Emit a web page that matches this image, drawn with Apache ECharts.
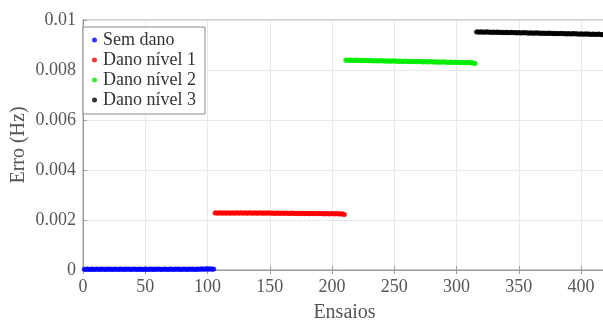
<!DOCTYPE html>
<html><head><meta charset="utf-8">
<script src="https://cdn.jsdelivr.net/npm/echarts@6/dist/echarts.min.js"></script>
<style>html,body{margin:0;padding:0;background:#fff}#c{width:603px;height:323px}</style>
</head><body><div id="c"></div>
<script>
const seriesNames = ["Sem dano", "Dano nível 1", "Dano nível 2", "Dano nível 3"];
const seriesStart = [1, 106, 211, 316];
const xTickLabels = ["0","50","100","150","200","250","300","350","400"];
const yTickLabels = ["0","0.002","0.004","0.006","0.008","0.01"];

const semDano = [0.00003,0.00002,0.00004,0.00003,0.00003,0.00002,0.00004,0.00003,0.00002,0.00003,
0.00004,0.00003,0.00002,0.00003,0.00004,0.00003,0.00003,0.00002,0.00004,0.00003,
0.00003,0.00004,0.00002,0.00003,0.00003,0.00004,0.00003,0.00002,0.00003,0.00004,
0.00003,0.00003,0.00002,0.00004,0.00003,0.00003,0.00004,0.00002,0.00003,0.00003,
0.00004,0.00003,0.00003,0.00002,0.00004,0.00003,0.00003,0.00002,0.00003,0.00004,
0.00003,0.00002,0.00003,0.00004,0.00003,0.00003,0.00002,0.00004,0.00003,0.00003,
0.00004,0.00003,0.00002,0.00003,0.00003,0.00004,0.00003,0.00002,0.00003,0.00004,
0.00003,0.00003,0.00002,0.00004,0.00003,0.00003,0.00004,0.00003,0.00002,0.00003,
0.00004,0.00003,0.00003,0.00002,0.00004,0.00003,0.00003,0.00004,0.00003,0.00002,
0.00003,0.00004,0.00003,0.00003,0.00005,0.00003,0.00004,0.00003,0.00005,0.00004,
0.00003,0.00005,0.00004,0.00003,0.00004];

const danoNivel1 = [0.00228,0.00229,0.00227,0.00228,0.00229,0.00228,0.00227,0.00229,0.00228,0.00227,
0.00229,0.00228,0.00227,0.00228,0.00229,0.00227,0.00228,0.00228,0.00229,0.00227,
0.00228,0.00229,0.00228,0.00227,0.00229,0.00228,0.00227,0.00228,0.00229,0.00228,
0.00227,0.00228,0.00229,0.00227,0.00228,0.00227,0.00229,0.00228,0.00227,0.00228,
0.00228,0.00227,0.00228,0.00229,0.00227,0.00228,0.00227,0.00228,0.00226,0.00228,
0.00227,0.00228,0.00226,0.00227,0.00228,0.00227,0.00226,0.00228,0.00227,0.00226,
0.00227,0.00226,0.00228,0.00227,0.00226,0.00227,0.00226,0.00227,0.00225,0.00227,
0.00226,0.00227,0.00225,0.00226,0.00227,0.00226,0.00225,0.00226,0.00227,0.00225,
0.00226,0.00225,0.00226,0.00227,0.00225,0.00226,0.00225,0.00226,0.00224,0.00226,
0.00225,0.00226,0.00224,0.00225,0.00226,0.00225,0.00224,0.00225,0.00226,0.00224,
0.00225,0.00224,0.00225,0.00223,0.00222];

const danoNivel2 = [0.00839,0.00840,0.00838,0.00839,0.00840,0.00838,0.00839,0.00838,0.00840,0.00839,
0.00838,0.00839,0.00837,0.00838,0.00839,0.00837,0.00838,0.00839,0.00837,0.00838,
0.00837,0.00838,0.00836,0.00837,0.00838,0.00836,0.00837,0.00836,0.00838,0.00837,
0.00836,0.00837,0.00835,0.00836,0.00837,0.00835,0.00836,0.00835,0.00837,0.00836,
0.00835,0.00836,0.00834,0.00835,0.00836,0.00834,0.00835,0.00834,0.00836,0.00835,
0.00834,0.00835,0.00833,0.00834,0.00835,0.00833,0.00834,0.00833,0.00835,0.00834,
0.00833,0.00834,0.00832,0.00833,0.00834,0.00832,0.00833,0.00832,0.00834,0.00833,
0.00832,0.00833,0.00831,0.00832,0.00833,0.00831,0.00832,0.00831,0.00833,0.00832,
0.00831,0.00832,0.00830,0.00831,0.00832,0.00830,0.00831,0.00830,0.00832,0.00831,
0.00830,0.00831,0.00829,0.00830,0.00831,0.00829,0.00830,0.00829,0.00831,0.00830,
0.00829,0.00828,0.00829,0.00827,0.00826];

const danoNivel3 = [0.00952,0.00953,0.00951,0.00952,0.00953,0.00951,0.00952,0.00951,0.00953,0.00952,
0.00951,0.00952,0.00950,0.00951,0.00952,0.00950,0.00951,0.00952,0.00950,0.00951,
0.00950,0.00951,0.00949,0.00950,0.00951,0.00949,0.00950,0.00949,0.00951,0.00950,
0.00949,0.00950,0.00948,0.00949,0.00950,0.00948,0.00949,0.00948,0.00950,0.00949,
0.00948,0.00949,0.00947,0.00948,0.00949,0.00947,0.00948,0.00947,0.00949,0.00948,
0.00947,0.00948,0.00946,0.00947,0.00948,0.00946,0.00947,0.00946,0.00948,0.00947,
0.00946,0.00947,0.00945,0.00946,0.00947,0.00945,0.00946,0.00945,0.00947,0.00946,
0.00945,0.00946,0.00944,0.00945,0.00946,0.00944,0.00945,0.00944,0.00946,0.00945,
0.00944,0.00945,0.00943,0.00944,0.00945,0.00943,0.00944,0.00943,0.00945,0.00944,
0.00943,0.00944,0.00942,0.00943,0.00944,0.00942,0.00943,0.00942,0.00944,0.00943,
0.00942,0.00941,0.00942,0.00941,0.00940];

const seriesValues = [semDano, danoNivel1, danoNivel2, danoNivel3];
const seriesColors = ["#0000ff", "#ff0000", "#00ee00", "#000000"];

const FONT = "Liberation Serif";
const TXT = "#555";

const chart = echarts.init(document.getElementById('c'), null, {renderer: 'canvas'});
const yLabelMap = {};
yTickLabels.forEach((t, i) => { yLabelMap[i] = t; });

chart.setOption({
  animation: false,
  backgroundColor: '#fff',
  grid: {left: 83, right: -3, top: 20, bottom: 53, show: true, borderColor: '#9a9a9a', borderWidth: 1,
    containLabel: false, outerBoundsMode: 'none'},
  legend: {
    orient: 'vertical', left: 83, top: 27,
    data: seriesNames,
    icon: 'circle', itemWidth: 5, itemHeight: 5, itemGap: 2,
    backgroundColor: '#fff', borderColor: '#8a8a8a', borderWidth: 1,
    padding: [4, 9, 5, 9],
    textStyle: {fontFamily: FONT, fontSize: 18, lineHeight: 18, color: '#333', padding: [0,0,0,1]}
  },
  xAxis: [{
    type: 'value', min: 0, max: 420, interval: 50,
    name: 'Ensaios', nameLocation: 'middle', nameGap: 33, nameMoveOverlap: false,
    nameTextStyle: {fontFamily: FONT, fontSize: 20, color: TXT},
    axisLine: {show: true, onZero: false, lineStyle: {color: '#9a9a9a'}},
    axisTick: {show: true, inside: true, length: 4, lineStyle: {color: '#9a9a9a'}},
    axisLabel: {fontFamily: FONT, fontSize: 18, color: TXT, margin: 8, showMaxLabel: false,
      formatter: (v) => xTickLabels[Math.round(v / 50)] || ''},
    splitLine: {show: true, lineStyle: {color: '#e8e8e8'}}
  }, {
    type: 'value', min: 0, max: 420, interval: 50, position: 'top',
    axisLine: {show: false}, axisLabel: {show: false}, splitLine: {show: false},
    axisTick: {show: true, inside: true, length: 4, lineStyle: {color: '#9a9a9a'}}
  }],
  yAxis: {
    type: 'value', min: 0, max: 0.01, interval: 0.002,
    name: 'Erro (Hz)', nameLocation: 'middle', nameGap: 54, nameRotate: 90, nameMoveOverlap: false,
    nameTextStyle: {fontFamily: FONT, fontSize: 20, color: TXT},
    axisLine: {show: true, onZero: false, lineStyle: {color: '#9a9a9a'}},
    axisTick: {show: true, inside: true, length: 4, lineStyle: {color: '#9a9a9a'}},
    axisLabel: {fontFamily: FONT, fontSize: 18, color: TXT, margin: 7,
      formatter: (v) => yLabelMap[Math.round(v / 0.002)] || ''},
    splitLine: {show: true, lineStyle: {color: '#e8e8e8'}}
  },
  series: seriesNames.map((name, k) => ({
    name: name, type: 'scatter', symbol: 'circle', symbolSize: 5,
    itemStyle: {color: seriesColors[k]},
    data: seriesValues[k].map((v, i) => [seriesStart[k] + i, v])
  }))
});
</script></body></html>
